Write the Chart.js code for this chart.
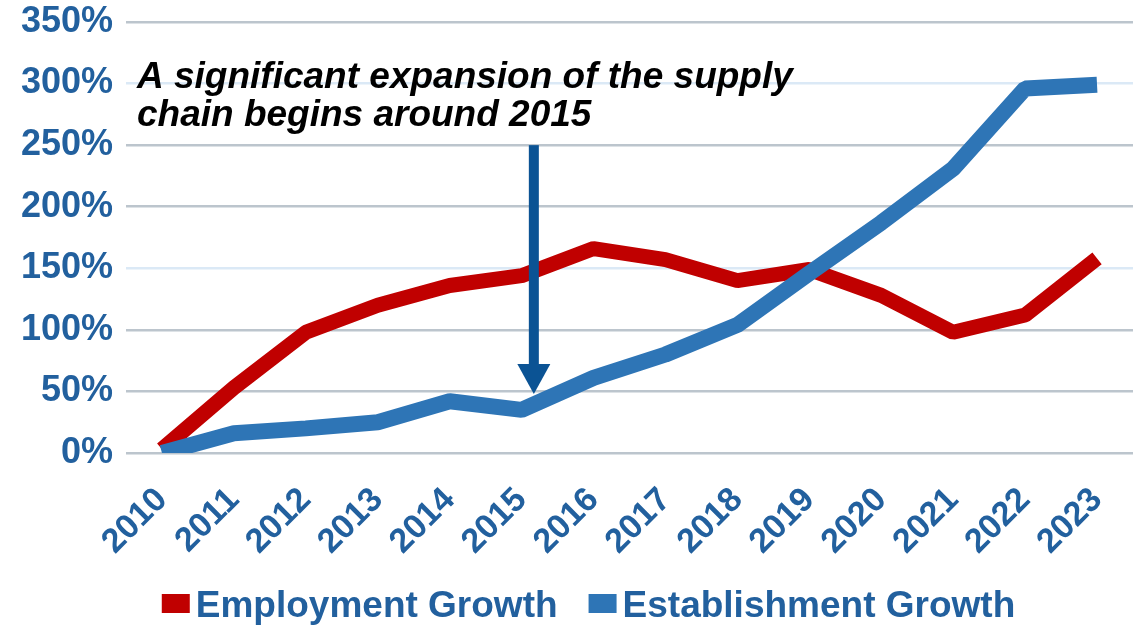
<!DOCTYPE html>
<html>
<head>
<meta charset="utf-8">
<script src="https://cdn.jsdelivr.net/npm/chart.js@4/dist/chart.umd.min.js"></script>
<style>
  html, body { margin: 0; padding: 0; background: #ffffff; }
  #wrap { width: 1144px; height: 626px; }
</style>
</head>
<body>
<div id="wrap"><canvas id="growthChart" width="1144" height="626"></canvas></div>
<script>
// data
const years = ['2010', '2011', '2012', '2013', '2014', '2015', '2016', '2017', '2018', '2019', '2020', '2021', '2022', '2023'];
const employmentGrowth = [3, 53, 98, 120, 136, 144, 166, 157, 140, 149, 128, 98, 112, 158];
const establishmentGrowth = [0, 16, 20, 25, 42, 35, 61, 80, 104, 146, 187, 231, 296, 299];
const yTicks = [0, 50, 100, 150, 200, 250, 300, 350];
const noteLines = ['A significant expansion of the supply', 'chain begins around 2015'];

const RED = '#c00000';
const BLUE = '#2e75b6';
const LABEL_BLUE = '#22609e';
const ARROW_BLUE = '#0b5394';
const FONT = "'Liberation Sans', Arial, sans-serif";

// draws the callout text and the arrow pointing at 2015
const annotationPlugin = {
    id: 'supplyNote',
    afterDatasetsDraw(chart) {
        const { ctx, scales: { x, y } } = chart;
        ctx.save();
        ctx.fillStyle = '#000000';
        ctx.font = `italic bold 37px ${FONT}`;
        ctx.textBaseline = 'alphabetic';
        ctx.textAlign = 'left';
        ctx.fillText(noteLines[0], 137, 88);
        ctx.fillText(noteLines[1], 137, 126);

        const ax = x.getPixelForValue(5.17);
        const top = y.getPixelForValue(250);
        const tip = y.getPixelForValue(48);
        const headH = 30;
        ctx.fillStyle = ARROW_BLUE;
        ctx.fillRect(ax - 5, top, 10, tip - headH - top + 1);
        ctx.beginPath();
        ctx.moveTo(ax - 16.5, tip - headH);
        ctx.lineTo(ax + 16.5, tip - headH);
        ctx.lineTo(ax, tip);
        ctx.closePath();
        ctx.fill();
        ctx.restore();
    }
};

// legend under the axis, square swatch tight against the label
const legendPlugin = {
    id: 'bottomLegend',
    afterDraw(chart) {
        const { ctx } = chart;
        const items = chart.data.datasets.slice().reverse();
        const boxW = 28, boxH = 19, gap = 6, itemGap = 31;
        ctx.save();
        ctx.font = `bold 37px ${FONT}`;
        ctx.textBaseline = 'alphabetic';
        ctx.textAlign = 'left';
        const widths = items.map(d => boxW + gap + ctx.measureText(d.label).width);
        const total = widths.reduce((a, b) => a + b, 0) + itemGap * (items.length - 1);
        let cx = 588.5 - total / 2;
        items.forEach((d, i) => {
            ctx.fillStyle = d.borderColor;
            ctx.fillRect(cx, 594, boxW, boxH);
            ctx.fillStyle = LABEL_BLUE;
            ctx.fillText(d.label, cx + boxW + gap, 617);
            cx += widths[i] + itemGap;
        });
        ctx.restore();
    }
};

const config = {
    type: 'line',
    data: {
        labels: years,
        datasets: [
            {
                label: 'Establishment Growth',
                data: establishmentGrowth,
                borderColor: BLUE,
                backgroundColor: BLUE,
                borderWidth: 16,
                borderCapStyle: 'butt',
                borderJoinStyle: 'bevel',
                pointRadius: 0,
                tension: 0
            },
            {
                label: 'Employment Growth',
                data: employmentGrowth,
                borderColor: RED,
                backgroundColor: RED,
                borderWidth: 15,
                borderCapStyle: 'butt',
                borderJoinStyle: 'bevel',
                pointRadius: 0,
                tension: 0
            }
        ]
    },
    options: {
        responsive: false,
        animation: false,
        layout: { padding: { top: 22, right: 11, left: 0, bottom: 0 } },
        plugins: {
            tooltip: { enabled: false },
            legend: { display: false }
        },
        scales: {
            x: {
                offset: true,
                grid: { display: false, drawTicks: false },
                border: { display: false },
                ticks: {
                    minRotation: 45,
                    maxRotation: 45,
                    autoSkip: false,
                    padding: 27,
                    color: LABEL_BLUE,
                    font: { family: FONT, size: 34, weight: 'bold' }
                },
                afterFit: s => {
                    s.height = s.chart.height - 453;
                    s.paddingLeft = 0;
                    s.paddingRight = 0;
                }
            },
            y: {
                min: 0,
                max: 350,
                afterBuildTicks: s => { s.ticks = yTicks.map(v => ({ value: v })); },
                grid: {
                    drawTicks: false,
                    lineWidth: 2.5,
                    color: c => (c.tick && (c.tick.value === 150 || c.tick.value === 300)) ? '#dbe9f6' : '#bcc5cd'
                },
                border: { display: false },
                ticks: {
                    padding: 13,
                    color: LABEL_BLUE,
                    font: { family: FONT, size: 36, weight: 'bold' },
                    callback: v => v + '%'
                },
                afterFit: s => {
                    s.width = 126;
                    s.paddingTop = 20;
                    s.paddingBottom = 20;
                }
            }
        }
    },
    plugins: [annotationPlugin, legendPlugin]
};

new Chart('growthChart', config);
</script>
</body>
</html>
